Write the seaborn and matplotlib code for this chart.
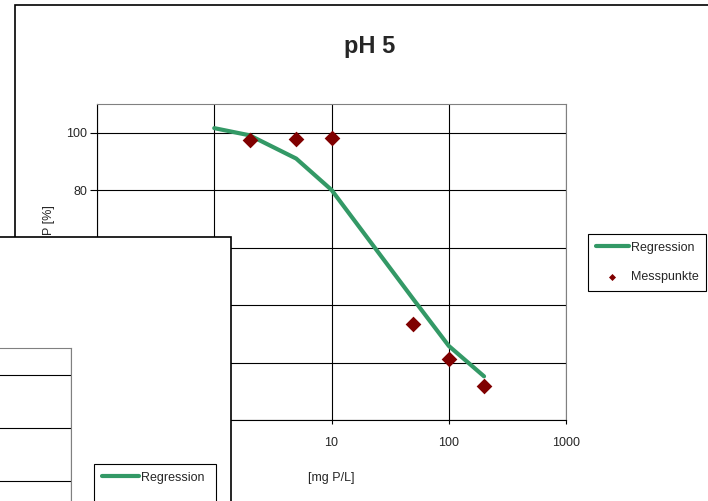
import matplotlib.pyplot as plt
import matplotlib.patches as mpatches
import matplotlib.ticker as mticker
import pandas as pd
import seaborn as sns

# regression curve, pH 5
conc_reg = [1, 2, 5, 10, 50, 100, 200]
p_reg = [101.6, 99.1, 91.0, 80.1, 42.0, 25.8, 15.2]

# measured points, pH 5
conc_mess = [2, 5, 10, 50, 100, 200]
p_mess = [97.3, 97.8, 98.3, 33.4, 21.3, 11.7]

x_ticks = [0.1, 1, 10, 100, 1000]
x_ticklabels = ["0,1", "1", "10", "100", "1000"]
y_ticks = [0, 20, 40, 60, 80, 100]

title = "pH 5"
x_label = "[mg P/L]"
y_label = "P [%]"
series_names = ["Regression", "Messpunkte"]

GREEN = "#339966"
DARKRED = "#800000"
GREY = "#808080"

W, H = 708, 501


def fx(px):
    return px / W


def fy(py):
    return 1 - py / H


def box(left, top, right, bottom):
    """Axes rectangle from pixel edges (origin top-left)."""
    return [fx(left), fy(bottom), (right - left) / W, (bottom - top) / H]


def style_plot_area(ax, show_labels=True):
    ax.set_xscale("log")
    ax.set_xlim(0.1, 1000)
    ax.set_ylim(0, 110)
    ax.set_xticks(x_ticks)
    ax.set_xticklabels(x_ticklabels)
    ax.xaxis.set_minor_locator(mticker.NullLocator())
    ax.set_yticks(y_ticks)
    ax.grid(True, which="major", color="black", lw=0.8)
    ax.set_axisbelow(True)
    ax.tick_params(axis="x", bottom=True, direction="out", length=3, width=0.8,
                   pad=9, labelsize=9, color="black", labelbottom=show_labels)
    ax.tick_params(axis="y", left=True, direction="out", length=5, width=0.8,
                   pad=2, labelsize=9, color="black", labelleft=show_labels)
    for side in ["top", "right"]:
        ax.spines[side].set_color(GREY)
        ax.spines[side].set_linewidth(0.8)
    for side in ["left", "bottom"]:
        ax.spines[side].set_color("black")
        ax.spines[side].set_linewidth(0.8)
    ax.set_facecolor("white")


sns.set_style("white")
plt.rcParams["font.family"] = ["Liberation Sans", "DejaVu Sans"]
plt.rcParams["font.size"] = 9

df_reg = pd.DataFrame({"conc": conc_reg, "p": p_reg})
df_mess = pd.DataFrame({"conc": conc_mess, "p": p_mess})

fig = plt.figure(figsize=(W / 100, H / 100), dpi=100)

# frame of the pH 5 chart (runs off the right/bottom edge)
fig.add_artist(mpatches.Rectangle((fx(15), fy(540)), (760 - 15) / W, (540 - 5) / H,
                                  transform=fig.transFigure, fc="white",
                                  ec="black", lw=1.2, zorder=-1))

ax = fig.add_axes(box(97, 104, 566, 420))
ax.set_zorder(1)
ax.set_xscale("log")
sns.lineplot(data=df_reg, x="conc", y="p", color=GREEN, lw=3, ax=ax,
             label=series_names[0], zorder=3)
sns.scatterplot(data=df_mess, x="conc", y="p", marker="D", s=64, color=DARKRED,
                linewidth=0, ax=ax, label=series_names[1], zorder=4)
style_plot_area(ax)
ax.set_xlabel(x_label, fontsize=9)
ax.set_ylabel(y_label, fontsize=9)
ax.xaxis.set_label_coords(0.5, -58 / 317)
ax.xaxis.label.set_va("center")
ax.yaxis.set_label_coords((49 - 97) / 469, (420 - 219.5) / 317)
ax.yaxis.label.set_va("center")

handles, labels = ax.get_legend_handles_labels()
ax.get_legend().remove()

fig.text(fx(370), fy(52.7), title, ha="center", va="baseline",
         fontsize=17, fontweight="bold")

legend_kw = dict(loc="upper left", frameon=True, fancybox=False,
                 edgecolor="black", framealpha=1, borderaxespad=0,
                 borderpad=0.6, handlelength=2.7, handletextpad=0.15,
                 labelspacing=1.4, markerscale=0.45, fontsize=9)
leg = fig.legend(handles, labels, bbox_to_anchor=(fx(588), fy(234)),
                 bbox_transform=fig.transFigure, **legend_kw)
leg.get_frame().set_linewidth(0.8)
leg.set_zorder(5)

# second chart lying on top, mostly outside the picture
fig.add_artist(mpatches.Rectangle((fx(-20), fy(560)), (231 + 20) / W, (560 - 237) / H,
                                  transform=fig.transFigure, fc="white",
                                  ec="black", lw=1.2, zorder=2))
ax2 = fig.add_axes(box(-360, 348, 71, 640))
ax2.set_zorder(3)
style_plot_area(ax2, show_labels=False)
legend_kw2 = dict(legend_kw, handlelength=3.0, labelspacing=1.8)
leg2 = ax2.legend(handles, labels, bbox_to_anchor=(fx(94), fy(464)),
                  bbox_transform=fig.transFigure, **legend_kw2)
leg2.get_frame().set_linewidth(0.8)

fig.savefig("out.png", dpi=100)
